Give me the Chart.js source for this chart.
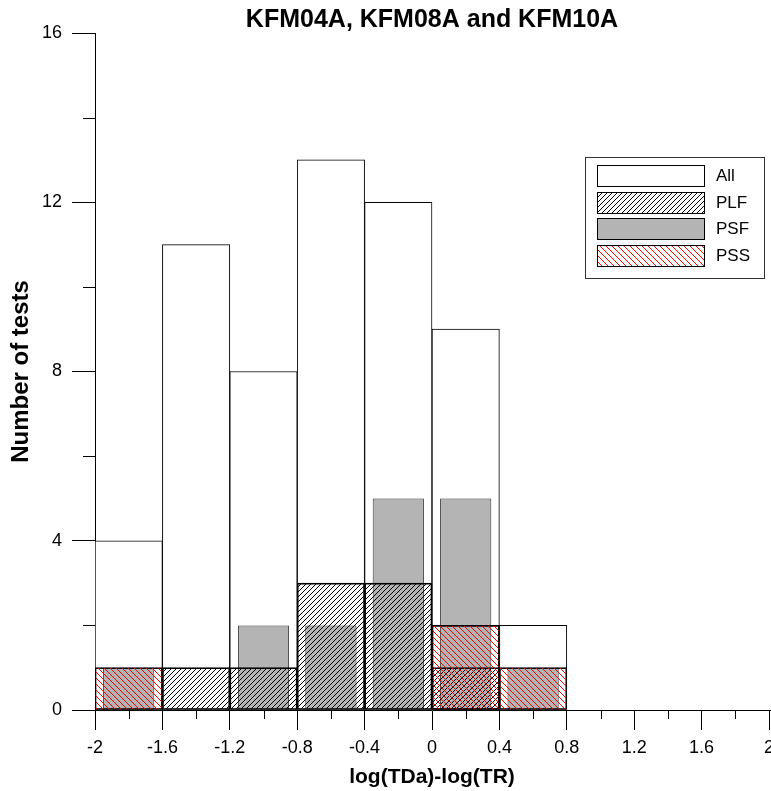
<!DOCTYPE html>
<html>
<head>
<meta charset="utf-8">
<title>KFM04A, KFM08A and KFM10A</title>
<script src="https://cdn.jsdelivr.net/npm/chart.js@4.4.1/dist/chart.umd.min.js"></script>
<style>
    html, body { margin: 0; padding: 0; background: #fff; overflow: hidden; }
    #wrap { width: 771px; height: 791px; }
</style>
</head>
<body>
<div id="wrap"><canvas id="histChart"></canvas></div>
<script>
// classes are 0.4 wide, from -2 to 2
const binCenters = ['-1.8', '-1.4', '-1.0', '-0.6', '-0.2', '0.2', '0.6', '1.0', '1.4', '1.8'];
const allTests = [4, 11, 8, 13, 12, 9, 2, null, null, null];
const plfTests = [null, 1, 1, 3, 3, 1, null, null, null, null];
const psfTests = [1, null, 2, 2, 5, 5, 1, null, null, null];
const pssTests = [1, null, null, null, null, 2, 1, null, null, null];
const legendLabels = ['All', 'PLF', 'PSF', 'PSS'];
const xMinorTicks = [-1.8, -1.4, -1.0, -0.6, -0.2, 0.2, 0.6, 1.0, 1.4, 1.8];
const yMinorTicks = [2, 6, 10, 14];

document.addEventListener('DOMContentLoaded', function() {
    Chart.defaults.font.family = "'Liberation Sans', Arial, sans-serif";
    Chart.defaults.color = '#000';

    // Build a diagonal hatch pattern ('/' or '\')
    function hatch(color, size, dir) {
        const c = document.createElement('canvas');
        c.width = size;
        c.height = size;
        const g = c.getContext('2d');
        g.strokeStyle = color;
        g.lineWidth = 1;
        g.beginPath();
        if (dir === '/') {
            g.moveTo(0, size); g.lineTo(size, 0);
            g.moveTo(-1, 1); g.lineTo(1, -1);
            g.moveTo(size - 1, size + 1); g.lineTo(size + 1, size - 1);
        } else {
            g.moveTo(0, 0); g.lineTo(size, size);
            g.moveTo(-1, size - 1); g.lineTo(1, size + 1);
            g.moveTo(size - 1, -1); g.lineTo(size + 1, 1);
        }
        g.stroke();
        return g.createPattern(c, 'repeat');
    }

    const blackHatch = hatch('#000', 5, '/');
    const redHatch = hatch('#f00', 6, '\\');

    // Minor tick marks and the small axis extension
    const minorTicks = {
        id: 'minorTicks',
        afterDraw(chart) {
            const ctx = chart.ctx;
            const xs = chart.scales.x;
            const ys = chart.scales.y;
            const area = chart.chartArea;
            ctx.save();
            ctx.strokeStyle = '#000';
            ctx.lineWidth = 1;
            ctx.beginPath();
            xMinorTicks.forEach(v => {
                const px = Math.round(xs.getPixelForValue(v)) + 0.5;
                ctx.moveTo(px, area.bottom);
                ctx.lineTo(px, area.bottom + 9);
            });
            yMinorTicks.forEach(v => {
                const py = Math.round(ys.getPixelForValue(v)) + 0.5;
                ctx.moveTo(area.left - 12, py);
                ctx.lineTo(area.left, py);
            });
            ctx.moveTo(area.right, area.bottom + 0.5);
            ctx.lineTo(chart.width, area.bottom + 0.5);
            ctx.stroke();
            ctx.restore();
        }
    };

    // Boxed legend inside the plot, top right
    const boxLegend = {
        id: 'boxLegend',
        afterDraw(chart) {
            const ctx = chart.ctx;
            const area = chart.chartArea;
            const w = 179, h = 121;
            const left = area.right - 5 - w;
            const top = area.top + 124;
            ctx.save();
            ctx.fillStyle = '#fff';
            ctx.fillRect(left, top, w, h);
            ctx.strokeStyle = '#333';
            ctx.lineWidth = 1;
            ctx.strokeRect(left + 0.5, top + 0.5, w, h);
            chart.data.datasets.forEach((ds, i) => {
                const sx = left + 12, sy = Math.round(top + 8 + i * 26.7);
                ctx.fillStyle = '#fff';
                ctx.fillRect(sx, sy, 107, 21);
                ctx.fillStyle = ds.backgroundColor;
                ctx.fillRect(sx, sy, 107, 21);
                ctx.strokeStyle = '#000';
                ctx.strokeRect(sx + 0.5, sy + 0.5, 107, 21);
                ctx.fillStyle = '#000';
                ctx.font = "17px 'Liberation Sans', Arial, sans-serif";
                ctx.textBaseline = 'middle';
                ctx.fillText(legendLabels[i], left + 131, sy + 11);
            });
            ctx.restore();
        }
    };

    const ctx = document.getElementById('histChart').getContext('2d');
    new Chart(ctx, {
        type: 'bar',
        data: {
            labels: binCenters,
            datasets: [{
                label: legendLabels[0],
                data: allTests,
                backgroundColor: '#fff',
                borderColor: '#000',
                order: 4
            }, {
                label: legendLabels[1],
                data: plfTests,
                backgroundColor: blackHatch,
                borderColor: '#000',
                order: 2
            }, {
                label: legendLabels[2],
                data: psfTests,
                backgroundColor: '#b4b4b4',
                borderColor: '#333',
                barPercentage: 0.76,
                order: 3
            }, {
                label: legendLabels[3],
                data: pssTests,
                backgroundColor: redHatch,
                borderColor: '#000',
                order: 1
            }]
        },
        options: {
            responsive: true,
            maintainAspectRatio: false,
            animation: false,
            layout: { padding: { left: 0, right: 2, top: 0, bottom: 0 } },
            datasets: {
                bar: {
                    xAxisID: 'xb',
                    grouped: false,
                    categoryPercentage: 1,
                    barPercentage: 1,
                    borderWidth: 1,
                    borderSkipped: false
                }
            },
            plugins: {
                legend: { display: false },
                tooltip: { enabled: false },
                title: {
                    display: true,
                    text: 'KFM04A, KFM08A and KFM10A',
                    fullSize: false,
                    font: { size: 25, weight: 'bold', lineHeight: 1 },
                    padding: { top: 8, bottom: 0 }
                }
            },
            scales: {
                xb: {
                    type: 'category',
                    display: false,
                    offset: true
                },
                x: {
                    type: 'linear',
                    position: 'bottom',
                    offset: false,
                    min: -2,
                    max: 2,
                    ticks: {
                        stepSize: 0.4,
                        padding: 7,
                        font: { size: 18 },
                        maxRotation: 0,
                        callback: v => String(Number(v.toFixed(1)))
                    },
                    grid: { offset: false, drawOnChartArea: false, tickLength: 20, color: '#000' },
                    border: { display: true, color: '#000' },
                    title: {
                        display: true,
                        text: 'log(TDa)-log(TR)',
                        font: { size: 21, weight: 'bold' },
                        padding: { top: 0, bottom: 1 }
                    },
                    afterFit(scale) {
                        scale.height = 81;
                        scale.paddingLeft = 0;
                        scale.paddingRight = 0;
                    }
                },
                y: {
                    min: 0,
                    max: 16,
                    ticks: { stepSize: 4, padding: 10, font: { size: 18 } },
                    grid: { drawOnChartArea: false, tickLength: 23, color: '#000' },
                    border: { display: true, color: '#000' },
                    title: {
                        display: true,
                        text: 'Number of tests',
                        font: { size: 24, weight: 'bold' },
                        padding: { top: 7, bottom: 0 }
                    },
                    afterFit(scale) {
                        scale.width = 95;
                    }
                }
            }
        },
        plugins: [minorTicks, boxLegend]
    });
});
</script>
</body>
</html>
